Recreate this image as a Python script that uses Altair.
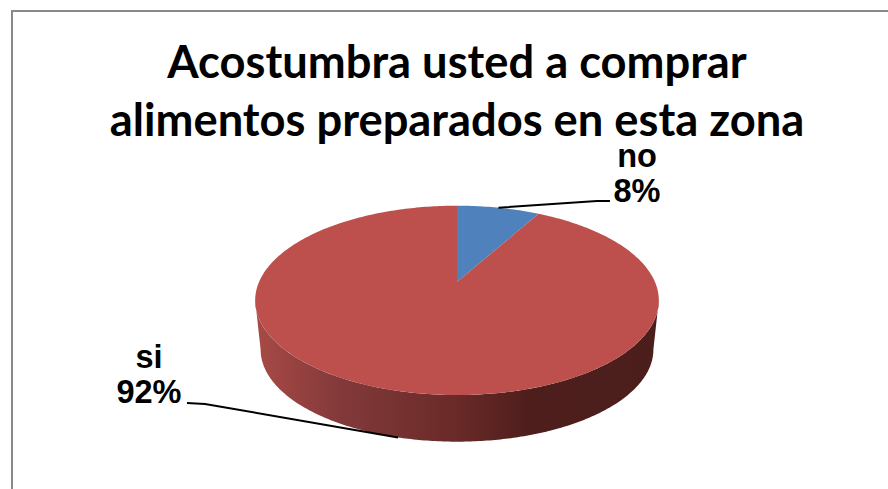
import numpy as np
import pandas as pd
import altair as alt

# Survey result
categories = ["no", "si"]
shares = [8, 92]
colors = ["#4f81bd", "#bd4f4c"]
title_lines = ["Acostumbra usted a comprar", "alimentos preparados en esta zona"]

W, H = 888, 489

# Perspective model of the tilted disc
APEX_X, APEX_Y = 457.0, 282.0
RX, RY, PERSP = 198.0, 91.1, 0.194
DEPTH, BASE_SCALE = 49.7, 0.973


def project(theta_deg, lowered=False):
    """Screen position of rim points, theta measured clockwise from the back."""
    t = np.radians(np.asarray(theta_deg, dtype=float))
    d = 1 + PERSP * np.cos(t)
    x = RX * np.sin(t) / d
    y = RY * np.cos(t) / d
    if lowered:
        return APEX_X + BASE_SCALE * x, APEX_Y + DEPTH - BASE_SCALE * y
    return APEX_X + x, APEX_Y - y


def polygon(xs, ys):
    return pd.DataFrame({"x": xs, "y": ys, "i": np.arange(len(xs))})


X = alt.X("x:Q", scale=alt.Scale(domain=[0, W], range=[0, W]), axis=None)
Y = alt.Y("y:Q", scale=alt.Scale(domain=[0, H], range=[0, H]), axis=None)


def shape(df, fill):
    return alt.Chart(df).mark_line(
        fill=fill, strokeWidth=0, interpolate="linear-closed"
    ).encode(x=X, y=Y, order=alt.Order("i:Q"))


def path(df, color="#000000", width=2.0):
    return alt.Chart(df).mark_line(
        color=color, strokeWidth=width
    ).encode(x=X, y=Y, order=alt.Order("i:Q"))


# Side wall between the silhouette points of the two rims, shaded towards the right
side = np.degrees(np.arccos(-PERSP))
arc = np.linspace(side, 360 - side, 241)
tx, ty = project(arc)
bx, by = project(arc[::-1], lowered=True)
wall_fill = alt.Gradient(
    gradient="linear", x1=0, x2=1, y1=0, y2=0,
    stops=[
        alt.GradientStop(color="#a84a46", offset=0.0),
        alt.GradientStop(color="#83393a", offset=0.21),
        alt.GradientStop(color="#692a28", offset=0.5),
        alt.GradientStop(color="#4e1e1c", offset=0.68),
        alt.GradientStop(color="#4b1e1c", offset=1.0),
    ],
)
wall = shape(polygon(np.r_[tx, bx], np.r_[ty, by]), wall_fill)

# Top face slices
angles = np.cumsum([0] + shares) * 3.6
mids = (angles[:-1] + angles[1:]) / 2
faces = []
for start, end, fill in zip(angles[:-1], angles[1:], colors):
    sx, sy = project(np.linspace(start, end, int(end - start) + 2))
    faces.append(shape(polygon(np.r_[APEX_X, sx], np.r_[APEX_Y, sy]), fill))

# Leader lines run from each slice's mid-angle to its label
no_x, no_y = project(mids[0])
si_x, si_y = project(mids[1], lowered=True)
leaders = [
    path(polygon([no_x, 597, 610], [no_y, 201, 201])),
    path(polygon([si_x, 205, 187], [si_y, 404, 403])),
]

labels = pd.DataFrame({
    "x": [637, 149],
    "y": [157, 358],
    "label": [f"{c}\n{s}%" for c, s in zip(categories, shares)],
})
label_text = alt.Chart(labels).mark_text(
    font="Liberation Sans", fontWeight="bold", fontSize=32.5,
    lineHeight=35, lineBreak="\n", align="center", baseline="middle",
    color="#000000",
).encode(x=X, y=Y, text="label:N")

# Chart frame: only the top and left edges fall inside the canvas
frame = [
    path(polygon([11, W], [11, 11]), color="#898989"),
    path(polygon([12, 12], [10, H]), color="#898989"),
]

title_df = pd.DataFrame({"x": [457, 457], "y": [64, 122], "line": title_lines})
title_text = alt.Chart(title_df).mark_text(
    font="Lato", fontWeight="bold", fontSize=45.3, align="center",
    baseline="middle", color="#000000",
).encode(x=X, y=Y, text="line:N")

chart = alt.layer(
    *frame, wall, *faces, *leaders, label_text, title_text
).properties(
    width=W, height=H, padding=0, autosize=alt.AutoSizeParams(type="none"),
    background="#ffffff",
).configure_view(stroke=None)

chart.save("out.html", embed_options={"renderer": "svg", "actions": False})
